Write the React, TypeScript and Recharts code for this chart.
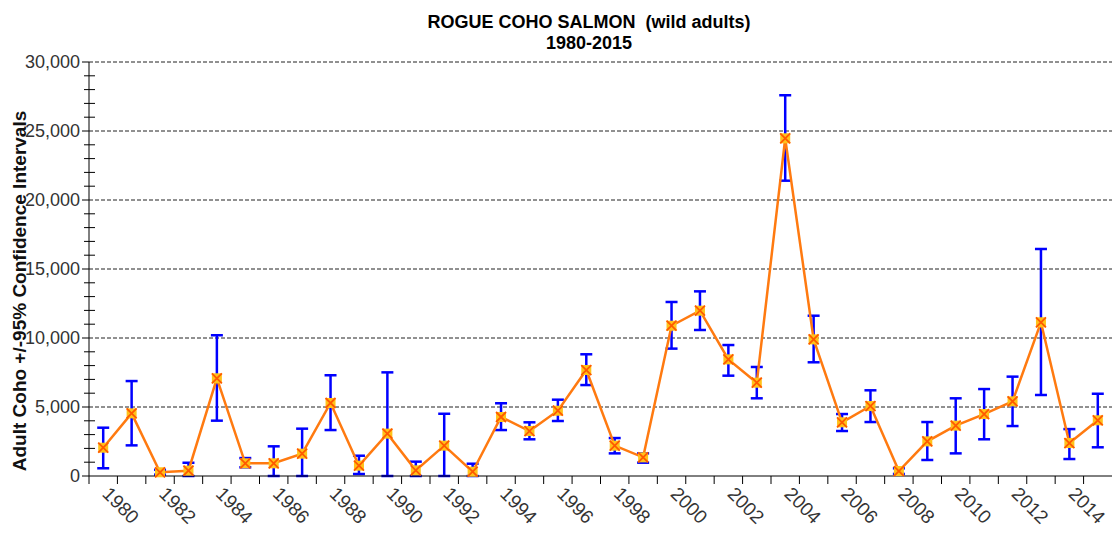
import React from "react"
import { LineChart, Line, XAxis, YAxis, ErrorBar, ReferenceLine } from "recharts"

// Rogue wild adult coho estimates with 95% CI
const years = [
  1980, 1981, 1982, 1983, 1984, 1985, 1986, 1987, 1988, 1989, 1990, 1991,
  1992, 1993, 1994, 1995, 1996, 1997, 1998, 1999, 2000, 2001, 2002, 2003,
  2004, 2005, 2006, 2007, 2008, 2009, 2010, 2011, 2012, 2013, 2014, 2015,
]
const counts = [
  2050, 4540, 270, 385, 7080, 920, 920, 1620, 5290, 750, 3070, 410,
  2200, 310, 4275, 3260, 4730, 7680, 2200, 1350, 10890, 11980, 8450, 6760,
  24470, 9900, 3890, 5070, 360, 2510, 3650, 4490, 5410, 11140, 2390, 4035,
]
const lower = [
  560, 2220, 100, 0, 4010, 630, 0, 0, 3330, 145, 0, 0,
  0, 0, 3330, 2660, 3985, 6590, 1640, 965, 9230, 10580, 7270, 5630,
  21400, 8240, 3260, 3910, 150, 1160, 1640, 2660, 3620, 5870, 1230, 2080,
]
const upper = [
  3500, 6880, 450, 960, 10200, 1300, 2150, 3430, 7300, 1470, 7510, 1040,
  4510, 890, 5270, 3890, 5530, 8820, 2750, 1640, 12610, 13380, 9490, 7900,
  27590, 11615, 4490, 6210, 555, 3910, 5630, 6300, 7200, 16450, 3400, 5960,
]
const majorTicks = [0, 5000, 10000, 15000, 20000, 25000, 30000]
const allTicks = Array.from({ length: 31 }, (_, i) => i * 1000)

const data = years.map((year, i) => ({
  year,
  count: counts[i],
  err: [counts[i] - lower[i], upper[i] - counts[i]],
}))

const W = 1112
const H = 533
const LEFT = 89
const TOP = 62
const XH = 57
const band = (W - LEFT) / years.length
const font = "'Liberation Sans', Arial, sans-serif"

function YTick({ x, y, payload }: any) {
  const v = payload.value
  const major = v % 5000 === 0
  return (
    <g>
      {major ? (
        <line x1={x - 7} x2={x} y1={y} y2={y} stroke="#000" />
      ) : (
        <line x1={x - 5} x2={x + 6} y1={y} y2={y} stroke="#000" />
      )}
      {major && (
        <text x={x - 9} y={y} dy={6} textAnchor="end" fontSize={18} fontFamily={font} fill="#333">
          {v.toLocaleString("en-US")}
        </text>
      )}
    </g>
  )
}

function XTick({ x, y, payload }: any) {
  const yr = payload.value
  const bx = x - band / 2
  const tx = x - 2
  const ty = y + 19
  return (
    <g>
      <line x1={bx} x2={bx} y1={y} y2={y + 8} stroke="#000" />
      {yr % 2 === 0 && (
        <text
          x={tx}
          y={ty}
          transform={`rotate(45, ${tx}, ${ty})`}
          textAnchor="start"
          fontSize={19}
          fontFamily={font}
          fill="#333"
        >
          {yr}
        </text>
      )}
    </g>
  )
}

function Marker({ cx, cy }: any) {
  if (cx == null || cy == null) return null
  return (
    <g>
      <rect x={cx - 5} y={cy - 5} width={10} height={10} fill="#FFC21A" />
      <path
        d={`M${cx - 5},${cy - 5}L${cx + 5},${cy + 5}M${cx + 5},${cy - 5}L${cx - 5},${cy + 5}`}
        stroke="#FF5A00"
        strokeWidth={1.8}
      />
    </g>
  )
}

export default function App() {
  return (
    <div style={{ position: "absolute", left: 0, top: 0, width: W, height: H, background: "#fff" }}>
      <LineChart width={W} height={H} data={data} margin={{ top: TOP, right: 0, bottom: 0, left: 0 }}>
        {majorTicks.slice(1).map((v) => (
          <ReferenceLine key={v} y={v} stroke="#222" strokeDasharray="4 2" />
        ))}
        <XAxis
          dataKey="year"
          scale="band"
          interval={0}
          height={XH}
          tickLine={false}
          tickSize={0}
          tickMargin={0}
          axisLine={{ stroke: "#000" }}
          tick={<XTick />}
        />
        <YAxis
          type="number"
          domain={[0, 30000]}
          ticks={allTicks}
          interval={0}
          width={LEFT}
          tickLine={false}
          tickSize={0}
          tickMargin={0}
          axisLine={{ stroke: "#000" }}
          tick={<YTick />}
        />
        <Line
          dataKey="count"
          stroke="#FF7A10"
          strokeWidth={2.5}
          dot={<Marker />}
          isAnimationActive={false}
        >
          <ErrorBar dataKey="err" stroke="#0000FF" strokeWidth={2.5} width={6} direction="y" />
        </Line>
      </LineChart>
      <svg
        width={W}
        height={H}
        style={{ position: "absolute", left: 0, top: 0, pointerEvents: "none" }}
      >
        <text x={589} y={28} textAnchor="middle" fontSize={18} fontWeight="bold" fontFamily={font} fill="#000" xmlSpace="preserve">
          {"ROGUE COHO SALMON  (wild adults)"}
        </text>
        <text x={589} y={49} textAnchor="middle" fontSize={18} fontWeight="bold" fontFamily={font} fill="#000">
          1980-2015
        </text>
        <text
          x={26}
          y={291}
          transform="rotate(-90, 26, 291)"
          textAnchor="middle"
          fontSize={19}
          fontWeight="bold"
          fontFamily={font}
          fill="#111"
        >
          Adult Coho +/-95% Confidence Intervals
        </text>
      </svg>
    </div>
  )
}
